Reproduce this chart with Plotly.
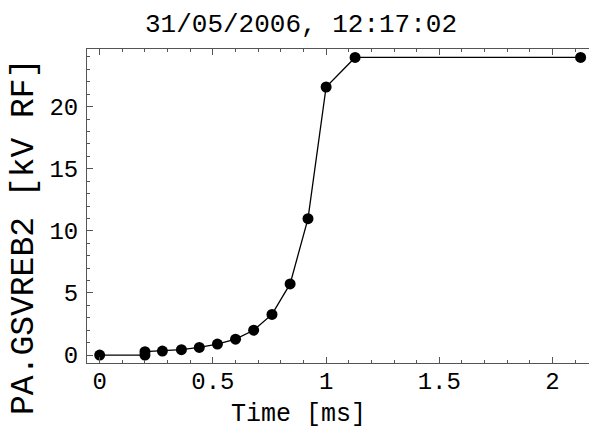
import plotly.graph_objects as go

# Gap voltage ramp of PA.GSVREB2 versus time
time_ms = [0.0, 0.2, 0.2, 0.277, 0.361, 0.44, 0.52, 0.60, 0.68, 0.761, 0.841, 0.92, 1.0, 1.128, 2.124]
voltage_kv = [0.0, 0.0, 0.27, 0.32, 0.43, 0.61, 0.88, 1.28, 2.0, 3.27, 5.73, 10.98, 21.58, 23.96, 23.96]

x_ticks = [0, 0.5, 1, 1.5, 2]
x_tick_text = ["0", "0.5", "1", "1.5", "2"]
y_ticks = [0, 5, 10, 15, 20]
y_tick_text = ["0", "5", "10", "15", "20"]

FONT = "Liberation Mono, Courier New, monospace"
AXIS_COLOR = "#555555"
W, H = 589, 428

fig = go.Figure(
    go.Scatter(
        x=time_ms,
        y=voltage_kv,
        mode="lines+markers",
        line=dict(color="black", width=1.3),
        marker=dict(color="black", size=11),
        cliponaxis=False,
        showlegend=False,
    )
)

fig.update_layout(
    width=W,
    height=H,
    margin=dict(l=87, r=0, t=49, b=65),
    paper_bgcolor="white",
    plot_bgcolor="white",
    font=dict(family=FONT, color="black"),
    title=dict(
        text="31/05/2006, 12:17:02",
        font=dict(family=FONT, size=26, color="black"),
        x=301 / W,
        xanchor="center",
        xref="container",
        y=1 - 23 / H,
        yanchor="middle",
        yref="container",
    ),
    annotations=[
        # axis titles, positioned relative to the plot area
        dict(
            text="Time [ms]",
            xref="paper", yref="paper",
            x=(298 - 87) / 502, y=-(414 - 363) / 314,
            xanchor="center", yanchor="middle",
            showarrow=False,
            font=dict(family=FONT, size=25, color="black"),
        ),
        dict(
            text="PA.GSVREB2 [kV RF]",
            textangle=-90,
            xref="paper", yref="paper",
            x=-(87 - 24) / 502, y=(363 - 237) / 314,
            xanchor="center", yanchor="middle",
            showarrow=False,
            font=dict(family=FONT, size=33, color="black"),
        ),
    ],
)

fig.update_xaxes(
    range=[-0.056, 2.161],
    tickvals=x_ticks,
    ticktext=x_tick_text,
    tickfont=dict(family=FONT, size=24),
    ticks="inside",
    ticklen=6,
    tickwidth=1,
    tickcolor=AXIS_COLOR,
    minor=dict(dtick=0.1, tick0=0, ticks="inside", ticklen=3, tickcolor=AXIS_COLOR),
    showline=True,
    linecolor=AXIS_COLOR,
    linewidth=1,
    mirror="allticks",
    showgrid=False,
    zeroline=False,
    ticklabelstandoff=-4,
)

fig.update_yaxes(
    range=[-0.64, 24.64],
    tickvals=y_ticks,
    ticktext=y_tick_text,
    tickfont=dict(family=FONT, size=24),
    ticks="inside",
    ticklen=6,
    tickwidth=1,
    tickcolor=AXIS_COLOR,
    minor=dict(dtick=1, tick0=0, ticks="inside", ticklen=3, tickcolor=AXIS_COLOR),
    showline=True,
    linecolor=AXIS_COLOR,
    linewidth=1,
    mirror=False,
    showgrid=False,
    zeroline=False,
    ticklabelstandoff=3,
)

fig.write_html("out.html")
